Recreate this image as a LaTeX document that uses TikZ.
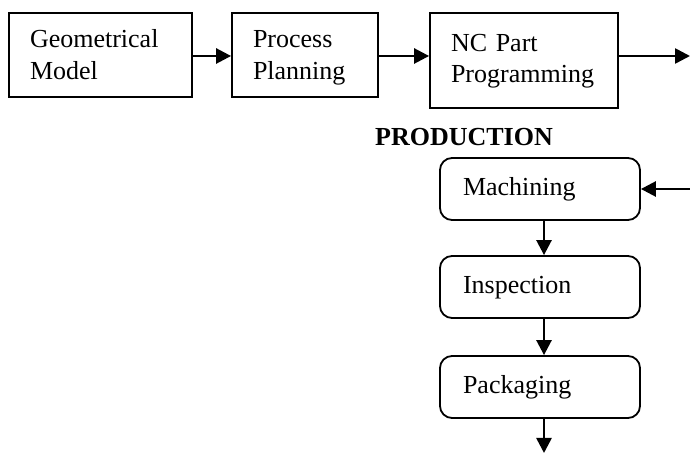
\documentclass[tikz,border=0pt]{standalone}
\usepackage{fontspec}
\setmainfont{Liberation Serif}
\usepackage{tikz}
\usetikzlibrary{shapes,arrows.meta,positioning}
\tikzstyle{pbox} = [rectangle, draw, line width=0.9pt, align=left, inner xsep=10.5pt, inner ysep=0pt, font=\fontsize{13}{15.8}\selectfont]
\tikzstyle{rbox} = [rectangle, draw, rounded corners=6pt, line width=0.9pt, align=left, inner xsep=11.5pt, inner ysep=0pt, text width=77pt, minimum height=31pt, font=\fontsize{13}{15.8}\selectfont]
\tikzstyle{line} = [draw, line width=1.3pt, -{Triangle[length=7.5pt,width=7.5pt]}]

\begin{document}
\begin{tikzpicture}[x=0.5pt, y=-0.5pt]
			\useasboundingbox (0,0) rectangle (690,453);
			\node [pbox, text width=70.5pt, minimum height=42pt] (geo) at (100.5,55) {\rule{0pt}{13.5pt}Geometrical\\Model\strut};
			\node [pbox, text width=52pt, minimum height=42pt] (plan) at (305,55) {\rule{0pt}{13.5pt}Process\\Planning\strut};
			\node [pbox, text width=73pt, minimum height=47.5pt] (nc) at (524,60.5) {NC Part\strut\\Programming\strut\\[4pt]};
			\coordinate (out) at (690,56);

			\node [font=\bfseries\fontsize{13}{15.8}\selectfont] (prod) at (464,137) {PRODUCTION};
			\node [rbox] (mach) at (540,189) {Machining\strut};
			\node [rbox] (insp) at (540,287) {Inspection\strut};
			\node [rbox] (pack) at (540,387) {Packaging\strut};
			\coordinate (in) at (690,189);
			\coordinate (done) at (544,453);

			\path [line] (geo.east |- out) -- (plan.west |- out);
			\path [line] (plan.east |- out) -- (nc.west |- out);
			\path [line] (nc.east |- out) -- (out);
			\path [line] (in) -- (mach);
			\path [line] (mach.south -| done) -- (insp.north -| done);
			\path [line] (insp.south -| done) -- (pack.north -| done);
			\path [line] (pack.south -| done) -- (done);
		\end{tikzpicture}
\end{document}
